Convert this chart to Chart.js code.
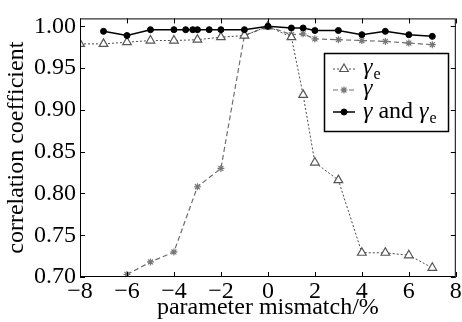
<!DOCTYPE html>
<html>
<head>
<meta charset="utf-8">
<script src="https://cdn.jsdelivr.net/npm/chart.js@4.4.1/dist/chart.umd.min.js"></script>
<style>
  html, body { margin: 0; padding: 0; background: #fff; }
  #wrap { width: 462px; height: 322px; }
</style>
</head>
<body>
<div id="wrap"><canvas id="corrChart" width="462" height="322"></canvas></div>
<script>
// --- data ---
const gammaEX = [-8, -7, -6, -5, -4, -3, -2, -1, 0, 1, 1.5, 2, 3, 4, 5, 6, 7];
const gammaEY = [0.979, 0.979, 0.981, 0.983, 0.983, 0.984, 0.987, 0.989, 1.000, 0.987, 0.918, 0.837, 0.816, 0.729, 0.729, 0.726, 0.711];

const gammaX = [-6, -5, -4, -3, -2, -1, 0, 1, 1.5, 2, 3, 4, 5, 6, 7];
const gammaY = [0.703, 0.718, 0.730, 0.808, 0.830, 0.989, 1.000, 0.990, 0.991, 0.985, 0.984, 0.983, 0.982, 0.980, 0.978];

const bothX = [-7, -6, -5, -4, -3.5, -3.2, -3, -2.5, -2, -1, 0, 1, 1.5, 2, 3, 4, 5, 6, 7];
const bothY = [0.994, 0.989, 0.996, 0.996, 0.996, 0.996, 0.996, 0.996, 0.996, 0.996, 1.000, 0.998, 0.998, 0.995, 0.995, 0.990, 0.994, 0.990, 0.988];

const xTicks = [-8, -6, -4, -2, 0, 2, 4, 6, 8];
const xTickLabels = ['\u22128', '\u22126', '\u22124', '\u22122', '0', '2', '4', '6', '8'];
const yTicks = [0.70, 0.75, 0.80, 0.85, 0.90, 0.95, 1.00];
const yTickLabels = ['0.70', '0.75', '0.80', '0.85', '0.90', '0.95', '1.00'];

const SERIF = '"Liberation Serif", "DejaVu Serif", serif';
const FS = 24;
Chart.defaults.font.family = SERIF;
Chart.defaults.font.size = FS;
Chart.defaults.color = '#000';

function pts(xs, ys) {
    return xs.map((x, i) => ({ x: x, y: ys[i] }));
}

// box, inward tick marks on all four sides, and the inset legend
const framePlugin = {
    id: 'frame',
    afterDatasetsDraw(chart) {
        const { ctx, chartArea: a, scales } = chart;
        const tl = 5;
        ctx.save();
        ctx.strokeStyle = '#000';
        ctx.lineWidth = 1;
        ctx.strokeRect(a.left + 0.5, a.top + 0.5, a.right - a.left - 1, a.bottom - a.top - 1);
        ctx.beginPath();
        xTicks.forEach(v => {
            const px = Math.round(scales.x.getPixelForValue(v)) + 0.5;
            ctx.moveTo(px, a.bottom); ctx.lineTo(px, a.bottom - tl);
            ctx.moveTo(px, a.top); ctx.lineTo(px, a.top + tl);
        });
        yTicks.forEach(v => {
            const py = Math.round(scales.y.getPixelForValue(v)) + 0.5;
            ctx.moveTo(a.left, py); ctx.lineTo(a.left + tl, py);
            ctx.moveTo(a.right, py); ctx.lineTo(a.right - tl, py);
        });
        ctx.stroke();

        // legend
        const lx = 324, ly = 53, lw = 124, lh = 78;
        ctx.fillStyle = '#fff';
        ctx.fillRect(lx, ly, lw, lh);
        ctx.lineWidth = 1.5;
        ctx.strokeRect(lx + 0.5, ly + 0.5, lw, lh);

        const rows = [69, 90, 112];
        chart.data.datasets.forEach((ds, i) => {
            const y = rows[i];
            ctx.save();
            ctx.strokeStyle = ds.borderColor;
            ctx.lineWidth = ds.borderWidth;
            ctx.setLineDash(ds.borderDash || []);
            ctx.beginPath();
            ctx.moveTo(333, y); ctx.lineTo(355, y);
            ctx.stroke();
            ctx.setLineDash([]);
            ctx.fillStyle = ds.pointBackgroundColor;
            ctx.strokeStyle = ds.pointBorderColor;
            ctx.lineWidth = ds.pointBorderWidth || 1;
            Chart.helpers.drawPoint(ctx, {
                pointStyle: ds.pointStyle,
                radius: ds.pointRadius,
                borderWidth: ds.pointBorderWidth || 1,
                rotation: 0
            }, 344, y);
            ctx.restore();
        });

        ctx.fillStyle = '#000';
        ctx.textBaseline = 'alphabetic';
        ctx.textAlign = 'left';
        const italic = 'italic ' + FS + 'px ' + SERIF;
        const upright = FS + 'px ' + SERIF;
        const sub = '16px ' + SERIF;
        function gammaE(x, base) {
            ctx.font = italic;
            ctx.fillText('\u03b3', x, base);
            const w = ctx.measureText('\u03b3').width;
            ctx.font = sub;
            ctx.fillText('e', x + w + 1, base + 5);
            return x + w + 1 + ctx.measureText('e').width;
        }
        gammaE(363, rows[0] + 5);
        ctx.font = italic;
        ctx.fillText('\u03b3', 363, rows[1] + 5);
        ctx.fillText('\u03b3', 363, rows[2] + 6);
        let x = 363 + ctx.measureText('\u03b3').width;
        ctx.font = upright;
        ctx.fillText(' and ', x, rows[2] + 6);
        x += ctx.measureText(' and ').width;
        gammaE(x, rows[2] + 6);
        ctx.restore();
    }
};

new Chart(document.getElementById('corrChart'), {
    type: 'line',
    data: {
        datasets: [
            {
                label: 'γe',
                data: pts(gammaEX, gammaEY),
                borderColor: '#4a4a4a',
                borderWidth: 1,
                borderDash: [2, 2],
                pointStyle: 'triangle',
                pointRadius: 5,
                pointBackgroundColor: '#fff',
                pointBorderColor: '#555',
                pointBorderWidth: 1.2,
                order: 2
            },
            {
                label: 'γ',
                data: pts(gammaX, gammaY),
                borderColor: '#6e6e6e',
                borderWidth: 1.2,
                borderDash: [5, 3],
                pointStyle: 'star',
                pointRadius: 3.5,
                pointBackgroundColor: '#777',
                pointBorderColor: '#777',
                pointBorderWidth: 1.2,
                order: 3
            },
            {
                label: 'γ and γe',
                data: pts(bothX, bothY),
                borderColor: '#000',
                borderWidth: 1.5,
                pointStyle: 'circle',
                pointRadius: 3,
                pointBackgroundColor: '#000',
                pointBorderColor: '#000',
                pointBorderWidth: 1,
                order: 1
            }
        ]
    },
    options: {
        responsive: false,
        animation: false,
        events: [],
        layout: { padding: { top: 13, right: 4, left: 0, bottom: 0 } },
        plugins: { legend: { display: false }, tooltip: { enabled: false } },
        scales: {
            x: {
                type: 'linear',
                min: -8,
                max: 8,
                grid: { display: false, drawTicks: false },
                border: { display: false },
                afterBuildTicks: s => { s.ticks = xTicks.map(v => ({ value: v })); },
                afterFit: s => { s.height = 45; },
                ticks: {
                    padding: 0,
                    color: '#000',
                    font: { family: SERIF, size: FS },
                    maxRotation: 0,
                    autoSkip: false,
                    callback: v => xTickLabels[xTicks.indexOf(v)]
                },
                title: {
                    display: true,
                    text: 'parameter mismatch/%',
                    color: '#000',
                    font: { family: SERIF, size: FS },
                    padding: { top: 0, bottom: 0 }
                }
            },
            y: {
                type: 'linear',
                min: 0.70,
                max: 1.0095,
                grid: { display: false, drawTicks: false },
                border: { display: false },
                afterBuildTicks: s => { s.ticks = yTicks.map(v => ({ value: v })); },
                afterFit: s => { s.width = 80; },
                ticks: {
                    padding: 4,
                    color: '#000',
                    font: { family: SERIF, size: FS },
                    autoSkip: false,
                    callback: v => yTickLabels[yTicks.findIndex(t => Math.abs(t - v) < 1e-6)]
                },
                title: {
                    display: true,
                    text: 'correlation coefficient',
                    color: '#000',
                    font: { family: SERIF, size: FS },
                    padding: { top: 2, bottom: 0 }
                }
            }
        }
    },
    plugins: [framePlugin]
});
</script>
</body>
</html>
